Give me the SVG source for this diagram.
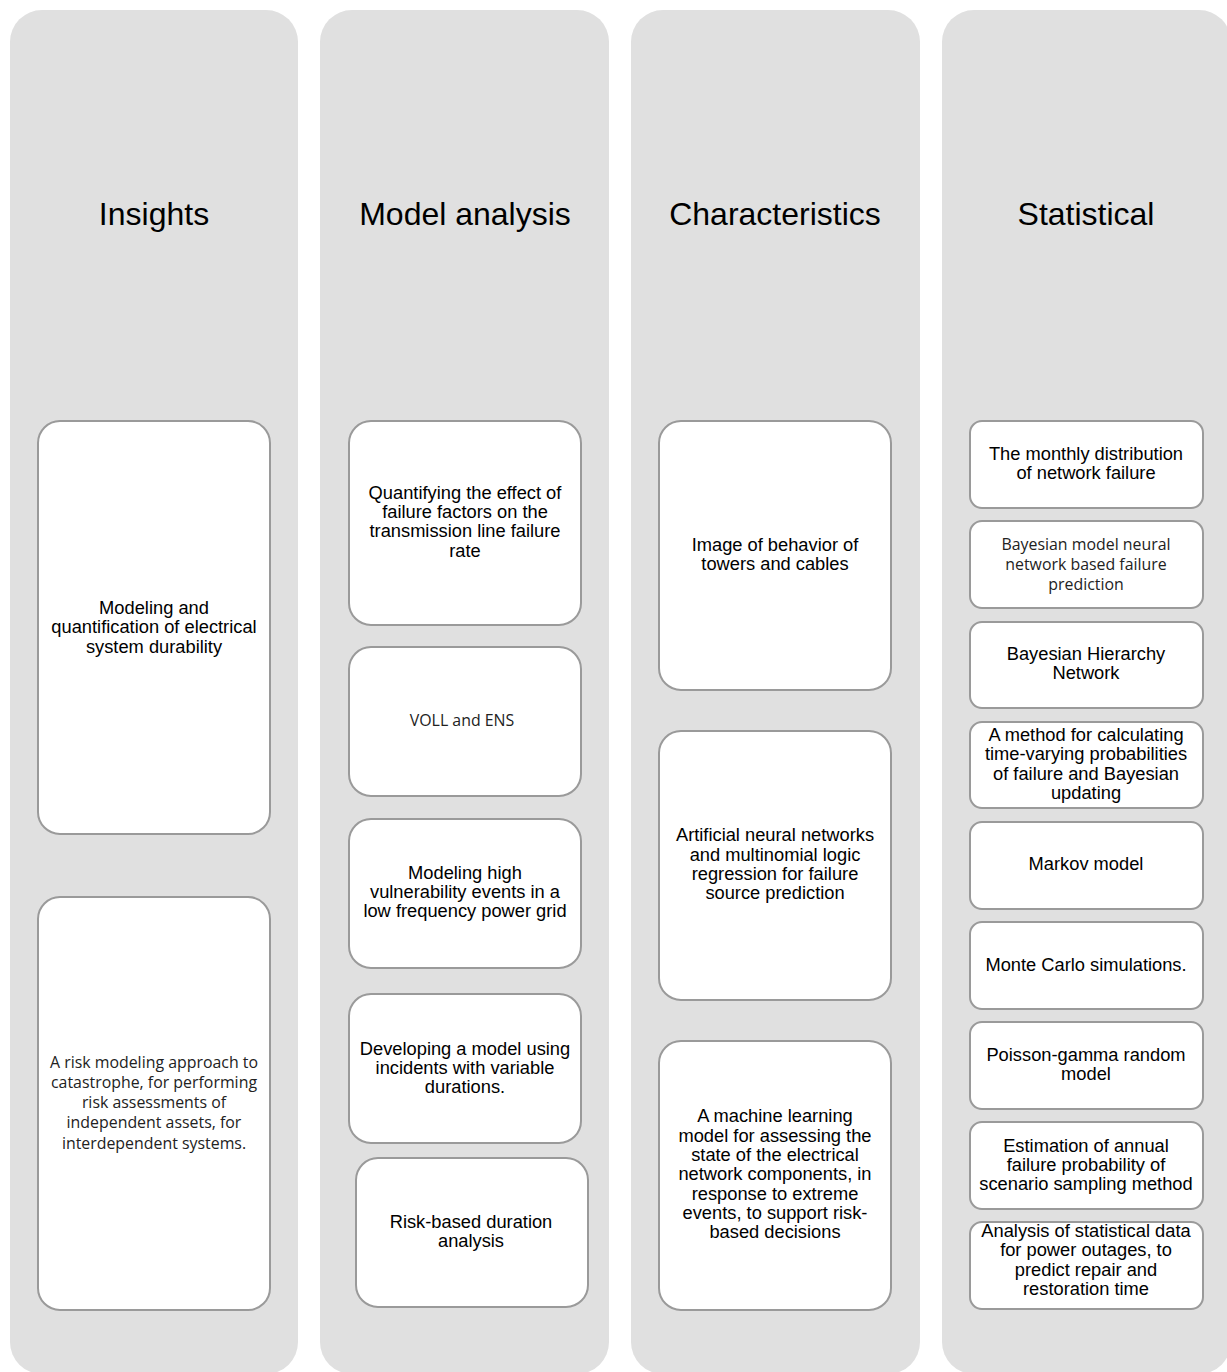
<svg xmlns="http://www.w3.org/2000/svg" width="1227" height="1372" viewBox="0 0 1227 1372">
<style>
.col{fill:#e0e0e0}
.box{fill:#ffffff;stroke:#9a9a9a;stroke-width:2}
.h{font-family:"Liberation Sans",Arial,sans-serif;font-size:32px;fill:#000;text-anchor:middle}
.t{font-family:"Liberation Sans",Arial,sans-serif;font-size:18.3px;fill:#000;text-anchor:middle}
.c{font-family:"Open Sans","Noto Sans",sans-serif;font-size:15.9px;fill:#222;text-anchor:middle}
</style>
<rect width="1227" height="1372" fill="#ffffff"/>
<g id="col-insights">
<rect class="col" x="10" y="10" width="288" height="1364" rx="32"/>
<text class="h" x="154" y="225">Insights</text>
</g>
<g id="col-model">
<rect class="col" x="320" y="10" width="289" height="1364" rx="32"/>
<text class="h" x="465" y="225">Model analysis</text>
</g>
<g id="col-char">
<rect class="col" x="631" y="10" width="289" height="1364" rx="32"/>
<text class="h" x="775" y="225">Characteristics</text>
</g>
<g id="col-stat">
<rect class="col" x="942" y="10" width="289" height="1364" rx="32"/>
<text class="h" x="1086" y="225">Statistical</text>
</g>
<g id="connectors"></g>
<g id="n-ins1">
<rect class="box" x="38" y="421" width="232" height="413" rx="22"/>
<text class="t" x="154" y="614">Modeling and</text>
<text class="t" x="154" y="633">quantification of electrical</text>
<text class="t" x="154" y="653">system durability</text>
</g>
<g id="n-ins2">
<rect class="box" x="38" y="897" width="232" height="413" rx="22"/>
<text class="c" x="154" y="1068">A risk modeling approach to</text>
<text class="c" x="154" y="1088">catastrophe, for performing</text>
<text class="c" x="154" y="1108">risk assessments of</text>
<text class="c" x="154" y="1128">independent assets, for</text>
<text class="c" x="154" y="1149">interdependent systems.</text>
</g>
<g id="n-m1">
<rect class="box" x="349" y="421" width="232" height="204" rx="22"/>
<text class="t" x="465" y="499">Quantifying the effect of</text>
<text class="t" x="465" y="518">failure factors on the</text>
<text class="t" x="465" y="537">transmission line failure</text>
<text class="t" x="465" y="557">rate</text>
</g>
<g id="n-m2">
<rect class="box" x="349" y="647" width="232" height="149" rx="22"/>
<text class="c" x="462" y="726">VOLL and ENS</text>
</g>
<g id="n-m3">
<rect class="box" x="349" y="819" width="232" height="149" rx="22"/>
<text class="t" x="465" y="879">Modeling high</text>
<text class="t" x="465" y="898">vulnerability events in a</text>
<text class="t" x="465" y="917">low frequency power grid</text>
</g>
<g id="n-m4">
<rect class="box" x="349" y="994" width="232" height="149" rx="22"/>
<text class="t" x="465" y="1055">Developing a model using</text>
<text class="t" x="465" y="1074">incidents with variable</text>
<text class="t" x="465" y="1093">durations.</text>
</g>
<g id="n-m5">
<rect class="box" x="356" y="1158" width="232" height="149" rx="22"/>
<text class="t" x="471" y="1228">Risk-based duration</text>
<text class="t" x="471" y="1247">analysis</text>
</g>
<g id="n-c1">
<rect class="box" x="659" y="421" width="232" height="269" rx="22"/>
<text class="t" x="775" y="551">Image of behavior of</text>
<text class="t" x="775" y="570">towers and cables</text>
</g>
<g id="n-c2">
<rect class="box" x="659" y="731" width="232" height="269" rx="22"/>
<text class="t" x="775" y="841">Artificial neural networks</text>
<text class="t" x="775" y="861">and multinomial logic</text>
<text class="t" x="775" y="880">regression for failure</text>
<text class="t" x="775" y="899">source prediction</text>
</g>
<g id="n-c3">
<rect class="box" x="659" y="1041" width="232" height="269" rx="22"/>
<text class="t" x="775" y="1122">A machine learning</text>
<text class="t" x="775" y="1142">model for assessing the</text>
<text class="t" x="775" y="1161">state of the electrical</text>
<text class="t" x="775" y="1180">network components, in</text>
<text class="t" x="775" y="1200">response to extreme</text>
<text class="t" x="775" y="1219">events, to support risk-</text>
<text class="t" x="775" y="1238">based decisions</text>
</g>
<g id="n-s1">
<rect class="box" x="970" y="421" width="233" height="87" rx="12"/>
<text class="t" x="1086" y="460">The monthly distribution</text>
<text class="t" x="1086" y="479">of network failure</text>
</g>
<g id="n-s2">
<rect class="box" x="970" y="521" width="233" height="87" rx="12"/>
<text class="c" x="1086" y="550">Bayesian model neural</text>
<text class="c" x="1086" y="570">network based failure</text>
<text class="c" x="1086" y="590">prediction</text>
</g>
<g id="n-s3">
<rect class="box" x="970" y="622" width="233" height="86" rx="12"/>
<text class="t" x="1086" y="660">Bayesian Hierarchy</text>
<text class="t" x="1086" y="679">Network</text>
</g>
<g id="n-s4">
<rect class="box" x="970" y="722" width="233" height="86" rx="12"/>
<text class="t" x="1086" y="741">A method for calculating</text>
<text class="t" x="1086" y="760">time-varying probabilities</text>
<text class="t" x="1086" y="780">of failure and Bayesian</text>
<text class="t" x="1086" y="799">updating</text>
</g>
<g id="n-s5">
<rect class="box" x="970" y="822" width="233" height="87" rx="12"/>
<text class="t" x="1086" y="870">Markov model</text>
</g>
<g id="n-s6">
<rect class="box" x="970" y="922" width="233" height="87" rx="12"/>
<text class="t" x="1086" y="971">Monte Carlo simulations.</text>
</g>
<g id="n-s7">
<rect class="box" x="970" y="1022" width="233" height="87" rx="12"/>
<text class="t" x="1086" y="1061">Poisson-gamma random</text>
<text class="t" x="1086" y="1080">model</text>
</g>
<g id="n-s8">
<rect class="box" x="970" y="1122" width="233" height="87" rx="12"/>
<text class="t" x="1086" y="1152">Estimation of annual</text>
<text class="t" x="1086" y="1171">failure probability of</text>
<text class="t" x="1086" y="1190">scenario sampling method</text>
</g>
<g id="n-s9">
<rect class="box" x="970" y="1222" width="233" height="87" rx="12"/>
<text class="t" x="1086" y="1237">Analysis of statistical data</text>
<text class="t" x="1086" y="1256">for power outages, to</text>
<text class="t" x="1086" y="1276">predict repair and</text>
<text class="t" x="1086" y="1295">restoration time</text>
</g>
</svg>
